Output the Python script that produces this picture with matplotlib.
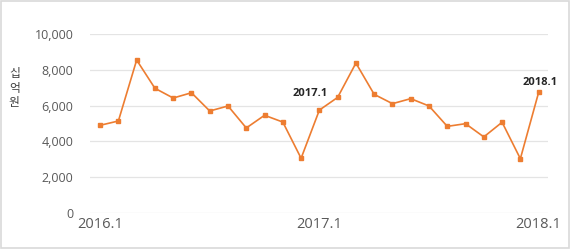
import matplotlib
matplotlib.use("Agg")
import matplotlib.pyplot as plt
from matplotlib.patches import Rectangle

plt.rcParams['font.family'] = ['Noto Sans CJK KR', 'DejaVu Sans']

# monthly values, 2016.1 .. 2018.1 (십억원)
months = ["2016.%d" % m for m in range(1, 13)] + \
         ["2017.%d" % m for m in range(1, 13)] + ["2018.1"]
values = [4900, 5140, 8550, 6970, 6425, 6720, 5700, 5980, 4750, 5460, 5080, 3055,
          5750, 6460, 8380, 6630, 6110, 6390, 5980, 4840, 4990, 4250, 5070, 3030,
          6740]
tick_labels = ["2016.1", "2017.1", "2018.1"]
callouts = ["2017.1", "2018.1"]
y_ticks = [0, 2000, 4000, 6000, 8000, 10000]

ORANGE = "#ED7D31"

fig = plt.figure(figsize=(5.7, 2.49), dpi=100)
ax = fig.add_axes([0.158, 0.145, 0.803, 0.718])

x = list(range(len(values)))
ax.plot(x, values, color=ORANGE, lw=1.2, marker="s", ms=2.4, zorder=3)

ax.set_xlim(-0.55, len(values) - 0.5)
ax.set_ylim(0, 10000)
ax.set_yticks(y_ticks)
ax.set_yticklabels([f"{v:,}" for v in y_ticks], fontsize=9, color="#595959",
                   family=["Open Sans", "DejaVu Sans"])
ax.set_xticks([months.index(t) for t in tick_labels])
ax.set_xticklabels(tick_labels, fontsize=10.5, color="#595959",
                   family=["Open Sans", "DejaVu Sans"])
ax.tick_params(length=0, axis="y", pad=12)
ax.tick_params(length=0, axis="x", pad=3)
ax.grid(axis="y", color="#E4E4E4", lw=0.9)
ax.set_axisbelow(True)
for s in ax.spines.values():
    s.set_visible(False)

# point callouts
offsets = {"2017.1": (-6.5, 8), "2018.1": (0.7, 3.5)}
for c in callouts:
    i = months.index(c)
    ax.annotate(c, (i, values[i]), xytext=offsets[c], textcoords="offset points",
                ha="center", va="bottom", fontsize=8, fontweight="bold",
                color="#262626", family=["Open Sans", "DejaVu Sans"])

fig.text(0.025, 0.645, "십\n억\n원", ha="center", va="center", fontsize=8.5,
         color="#404040", linespacing=1.15)

fig.patches.append(Rectangle((0.002, 0.004), 0.996, 0.992, transform=fig.transFigure,
                             fill=False, ec="#D9D9D9", lw=1.2))

fig.savefig("out.png", dpi=100)
